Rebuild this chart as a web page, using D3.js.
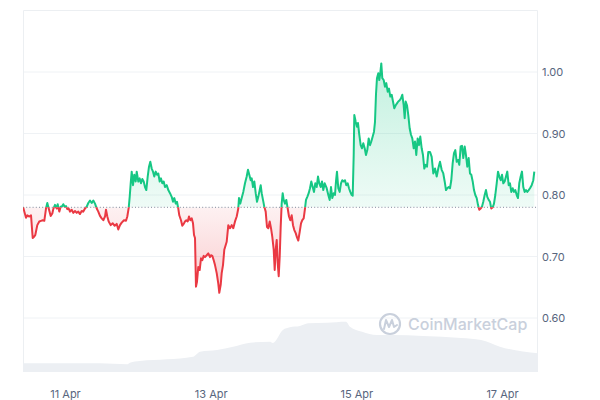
<!DOCTYPE html>
<html><head><meta charset="utf-8">
<script src="https://cdn.jsdelivr.net/npm/d3@7"></script>
<style>html,body{margin:0;padding:0;background:#fff;} svg{display:block;font-family:Inter,"Noto Sans",sans-serif;}</style>
</head><body><svg id="chart" width="600" height="400"></svg>
<script>
// ---- data (hours since 10 Apr 00:00 UTC) ----
const hours = [10.2, 11.15, 11.58, 12.24, 12.8, 13.36, 13.79, 14.21, 14.87, 15.53, 16.09, 16.65, 17.18, 17.74, 18.17, 18.63, 19.29, 19.82, 20.14, 20.7, 21.27, 21.59, 22.12, 22.58, 23.11, 23.44, 23.9, 24.33, 24.76, 25.22, 25.65, 26.21, 26.73, 27.3, 27.86, 28.38, 28.94, 29.5, 30.03, 30.59, 31.15, 31.68, 32.24, 32.8, 33.33, 33.89, 34.45, 34.97, 35.53, 36.09, 36.62, 37.18, 37.51, 37.94, 38.4, 39.06, 39.72, 40.38, 41.04, 41.56, 42.12, 42.68, 43.44, 44.1, 44.53, 44.99, 45.32, 45.65, 45.98, 46.41, 46.83, 47.3, 47.63, 48.15, 48.61, 49.04, 49.47, 49.93, 50.36, 50.79, 51.25, 51.68, 52.11, 52.57, 53.0, 53.42, 53.89, 54.31, 54.74, 55.2, 55.63, 56.06, 56.52, 56.95, 57.51, 58.04, 58.6, 59.16, 59.59, 60.01, 60.48, 60.9, 61.33, 61.66, 62.22, 62.65, 63.11, 63.54, 63.97, 64.43, 64.86, 65.29, 65.75, 66.18, 66.51, 66.84, 67.16, 67.49, 67.92, 68.38, 68.81, 69.24, 69.7, 70.13, 70.69, 71.22, 71.78, 72.11, 72.54, 73.0, 73.43, 73.99, 74.51, 74.84, 75.3, 75.63, 76.06, 76.49, 77.28, 77.81, 78.37, 78.93, 79.45, 80.02, 80.58, 81.1, 81.33, 81.76, 82.22, 82.75, 83.31, 83.87, 84.3, 84.73, 85.19, 85.52, 85.95, 86.38, 86.84, 87.27, 87.69, 88.15, 88.48, 88.81, 89.24, 89.67, 90.13, 90.56, 90.99, 91.45, 91.88, 92.31, 92.77, 93.1, 93.43, 93.76, 94.09, 94.42, 94.75, 95.07, 95.4, 95.73, 96.06, 96.49, 96.92, 97.38, 97.81, 98.24, 98.7, 99.13, 99.56, 100.02, 100.45, 100.87, 101.34, 101.77, 102.19, 102.65, 103.08, 103.41, 103.84, 104.3, 104.73, 105.16, 105.62, 106.05, 106.47, 106.94, 107.36, 107.79, 108.25, 108.68, 109.11, 109.57, 110.23, 110.76, 111.22, 111.65, 112.08, 112.54, 112.97, 113.29, 113.62, 114.05, 114.51, 114.94, 115.37, 115.83, 116.26, 116.69, 117.15, 117.58, 118.01, 118.47, 118.8, 119.13, 119.33, 119.79, 120.21, 120.54, 120.97, 121.43, 121.86, 122.29, 122.75, 123.18, 123.61, 124.07, 124.5, 124.93, 125.39, 125.82, 126.15, 126.47, 126.8, 127.23, 127.56, 127.89, 128.22, 128.55, 129.01, 129.44, 129.87, 130.33, 130.76, 131.19, 131.65, 132.08, 132.5, 132.97, 133.39, 133.82, 134.28, 134.71, 135.14, 135.6, 135.93, 136.26, 136.69, 137.12, 137.58, 138.01, 138.44, 138.9, 139.33, 139.75, 140.21, 140.64, 141.07, 141.53, 141.96, 142.39, 142.85, 143.28, 143.71, 144.27, 144.83, 145.36, 145.92, 146.48, 147.0, 147.56, 148.12, 148.65, 149.11, 149.54, 149.97, 150.43, 150.86, 151.29, 151.75, 152.18, 152.61, 153.07, 153.49, 153.92, 154.38, 154.81, 155.24, 155.7, 156.13, 156.56, 157.02, 157.45, 157.88, 158.34, 158.77, 159.2, 159.66, 160.08, 160.51, 160.98, 161.4, 161.83, 162.29, 162.72, 163.15, 163.61, 164.04, 164.47, 164.93, 165.36, 165.79, 166.25, 166.68, 167.11, 167.57, 168.0, 168.42, 168.88, 169.31, 169.74, 170.2, 170.63, 171.06, 171.52, 171.95, 172.38, 172.84, 173.26, 173.69, 174.15, 174.58, 175.01, 175.47, 175.9, 176.33, 176.79, 177.22, 177.78, 178.31, 178.64];
const prices = [0.780, 0.763, 0.767, 0.765, 0.767, 0.730, 0.732, 0.735, 0.751, 0.757, 0.758, 0.759, 0.758, 0.778, 0.787, 0.778, 0.766, 0.770, 0.777, 0.784, 0.778, 0.785, 0.773, 0.781, 0.782, 0.785, 0.781, 0.782, 0.777, 0.778, 0.773, 0.776, 0.771, 0.774, 0.771, 0.773, 0.769, 0.774, 0.773, 0.778, 0.781, 0.787, 0.791, 0.787, 0.791, 0.786, 0.778, 0.773, 0.766, 0.762, 0.759, 0.765, 0.776, 0.765, 0.757, 0.751, 0.754, 0.750, 0.753, 0.744, 0.751, 0.755, 0.759, 0.758, 0.765, 0.779, 0.797, 0.819, 0.838, 0.816, 0.833, 0.822, 0.838, 0.822, 0.827, 0.819, 0.826, 0.822, 0.813, 0.808, 0.830, 0.846, 0.854, 0.843, 0.838, 0.830, 0.838, 0.833, 0.835, 0.822, 0.827, 0.819, 0.822, 0.813, 0.816, 0.808, 0.803, 0.797, 0.789, 0.795, 0.786, 0.789, 0.778, 0.767, 0.759, 0.750, 0.753, 0.757, 0.759, 0.757, 0.765, 0.759, 0.762, 0.754, 0.735, 0.730, 0.651, 0.659, 0.683, 0.678, 0.697, 0.694, 0.701, 0.699, 0.702, 0.705, 0.699, 0.702, 0.701, 0.694, 0.686, 0.673, 0.656, 0.641, 0.654, 0.673, 0.686, 0.711, 0.724, 0.751, 0.746, 0.751, 0.746, 0.757, 0.765, 0.778, 0.795, 0.786, 0.795, 0.805, 0.819, 0.830, 0.841, 0.833, 0.824, 0.827, 0.813, 0.822, 0.803, 0.789, 0.797, 0.808, 0.816, 0.803, 0.792, 0.781, 0.773, 0.748, 0.746, 0.757, 0.746, 0.732, 0.711, 0.678, 0.711, 0.727, 0.689, 0.668, 0.700, 0.748, 0.786, 0.803, 0.792, 0.786, 0.792, 0.778, 0.765, 0.759, 0.767, 0.751, 0.743, 0.738, 0.731, 0.726, 0.740, 0.754, 0.759, 0.762, 0.778, 0.792, 0.797, 0.803, 0.811, 0.822, 0.813, 0.805, 0.819, 0.813, 0.830, 0.819, 0.813, 0.822, 0.808, 0.819, 0.811, 0.800, 0.792, 0.813, 0.795, 0.803, 0.800, 0.822, 0.838, 0.811, 0.805, 0.819, 0.824, 0.822, 0.824, 0.816, 0.819, 0.811, 0.805, 0.800, 0.799, 0.865, 0.930, 0.919, 0.911, 0.917, 0.898, 0.881, 0.876, 0.884, 0.876, 0.865, 0.873, 0.892, 0.881, 0.887, 0.895, 0.903, 0.919, 0.963, 0.990, 0.998, 0.987, 0.998, 1.014, 0.990, 0.987, 0.976, 0.982, 0.968, 0.973, 0.960, 0.963, 0.952, 0.941, 0.946, 0.949, 0.952, 0.954, 0.957, 0.963, 0.946, 0.925, 0.952, 0.946, 0.930, 0.908, 0.898, 0.892, 0.876, 0.887, 0.865, 0.892, 0.881, 0.895, 0.876, 0.865, 0.843, 0.849, 0.846, 0.870, 0.870, 0.862, 0.835, 0.843, 0.830, 0.843, 0.854, 0.841, 0.835, 0.822, 0.808, 0.811, 0.813, 0.811, 0.824, 0.852, 0.868, 0.873, 0.854, 0.857, 0.849, 0.879, 0.880, 0.860, 0.879, 0.865, 0.846, 0.860, 0.835, 0.833, 0.822, 0.808, 0.800, 0.795, 0.784, 0.776, 0.778, 0.781, 0.789, 0.800, 0.808, 0.797, 0.792, 0.789, 0.778, 0.780, 0.786, 0.800, 0.819, 0.838, 0.830, 0.824, 0.833, 0.819, 0.822, 0.830, 0.838, 0.816, 0.819, 0.805, 0.811, 0.805, 0.808, 0.800, 0.795, 0.819, 0.830, 0.838, 0.813, 0.805, 0.808, 0.805, 0.808, 0.811, 0.816, 0.824, 0.838];
const volHours = [10.16, 35.5, 44.4, 45.4, 48.7, 57.6, 66.2, 68.5, 74.1, 79.4, 85.0, 91.6, 92.5, 95.8, 98.1, 101.4, 104.1, 110.3, 116.6, 117.9, 121.9, 126.8, 131.8, 142.0, 154.5, 161.1, 167.3, 179.86];
const volumes = [8.7, 8.7, 7.7, 9.3, 11, 12.7, 15.3, 20.3, 22, 25.3, 29.3, 30.3, 29, 42, 44.7, 46, 48.7, 49.3, 50.3, 45.3, 40.3, 37, 37, 36, 34, 32, 25.3, 18.7];
const baselinePrice = 0.78;
const yTicks = [0.60, 0.70, 0.80, 0.90, 1.00];
const xTickDays = [11, 13, 15, 17];
const xTickLabels = ["11 Apr", "13 Apr", "15 Apr", "17 Apr"];

// ---- setup ----
const t0 = Date.UTC(2024, 3, 10);
const toTime = h => new Date(t0 + h * 3600e3);
const L = 23, R = 538, T = 10, B = 372;
const svg = d3.select("#chart");
const x = d3.scaleUtc().domain([toTime(10.16), toTime(179.86)]).range([L, R]);
const y = d3.scaleLinear().domain([0.6, 1.0]).range([318, 72]);
const vy = d3.scaleLinear().domain([0, 50]).range([B, 322]);

const data = d3.zip(hours, prices).map(([h, p]) => ({t: toTime(h), p}));
const vdata = d3.zip(volHours, volumes).map(([h, v]) => ({t: toTime(h), v}));
const yb = y(baselinePrice);

const defs = svg.append("defs");
defs.append("clipPath").attr("id", "cAbove").append("rect").attr("x", L).attr("y", 0).attr("width", R - L).attr("height", yb);
defs.append("clipPath").attr("id", "cBelow").append("rect").attr("x", L).attr("y", yb).attr("width", R - L).attr("height", 400 - yb);
const gG = defs.append("linearGradient").attr("id", "gGreen").attr("gradientUnits", "userSpaceOnUse")
  .attr("x1", 0).attr("x2", 0).attr("y1", y(d3.max(prices))).attr("y2", yb);
gG.append("stop").attr("offset", 0).attr("stop-color", "#16c784").attr("stop-opacity", 0.26);
gG.append("stop").attr("offset", 1).attr("stop-color", "#16c784").attr("stop-opacity", 0.07);
const gR = defs.append("linearGradient").attr("id", "gRed").attr("gradientUnits", "userSpaceOnUse")
  .attr("x1", 0).attr("x2", 0).attr("y1", yb).attr("y2", y(d3.min(prices)));
gR.append("stop").attr("offset", 0).attr("stop-color", "#ea3943").attr("stop-opacity", 0.07);
gR.append("stop").attr("offset", 1).attr("stop-color", "#ea3943").attr("stop-opacity", 0.26);

// frame + grid
svg.append("g").selectAll("line").data(yTicks).join("line")
  .attr("x1", L).attr("x2", R).attr("y1", d => y(d)).attr("y2", d => y(d))
  .attr("stroke", "#eff2f5").attr("stroke-width", 1);
svg.append("path").attr("d", `M${L + 0.5},${B}V${T + 0.5}H${R - 0.5}V${B}`)
  .attr("fill", "none").attr("stroke", "#eceff2").attr("stroke-width", 1);

// volume
svg.append("path").datum(vdata)
  .attr("d", d3.area().x(d => x(d.t)).y0(B).y1(d => vy(d.v)).curve(d3.curveMonotoneX))
  .attr("fill", "#eceff3");

// watermark
const wm = svg.append("g").attr("transform", "translate(390,324)");
wm.append("circle").attr("r", 10).attr("fill", "none").attr("stroke", "#c9d0dc").attr("stroke-width", 2.2);
wm.append("path").attr("d", "M-6,5 L-4,-4 L-1,3 L2,-4 L4,3 L7,1").attr("fill", "none")
  .attr("stroke", "#c9d0dc").attr("stroke-width", 2).attr("stroke-linejoin", "round").attr("stroke-linecap", "round");
svg.append("text").attr("x", 408).attr("y", 330).attr("font-size", 16).attr("font-weight", 500)
  .attr("fill", "#c9d0dc").text("CoinMarketCap");

// areas
const area = d3.area().x(d => x(d.t)).y0(yb).y1(d => y(d.p));
const line = d3.line().x(d => x(d.t)).y(d => y(d.p));
svg.append("path").datum(data).attr("d", area).attr("fill", "url(#gGreen)").attr("clip-path", "url(#cAbove)");
svg.append("path").datum(data).attr("d", area).attr("fill", "url(#gRed)").attr("clip-path", "url(#cBelow)");

// baseline
svg.append("line").attr("x1", L).attr("x2", R).attr("y1", yb).attr("y2", yb)
  .attr("stroke", "#808a9d").attr("stroke-width", 1).attr("stroke-dasharray", "1,2.2");

// lines
svg.append("path").datum(data).attr("d", line).attr("fill", "none").attr("stroke", "#16c784")
  .attr("stroke-width", 2).attr("stroke-linejoin", "round").attr("clip-path", "url(#cAbove)");
svg.append("path").datum(data).attr("d", line).attr("fill", "none").attr("stroke", "#ea3943")
  .attr("stroke-width", 2).attr("stroke-linejoin", "round").attr("clip-path", "url(#cBelow)");

// axes
const yAxis = svg.append("g").attr("transform", `translate(${R},0)`)
  .call(d3.axisRight(y).tickValues(yTicks).tickFormat(d3.format(".2f")).tickSize(0).tickPadding(4));
yAxis.select(".domain").remove();
yAxis.selectAll("text").attr("fill", "#58667e").attr("font-size", 11).attr("font-family", "Inter,'Noto Sans',sans-serif");

const xAxis = svg.append("g").attr("transform", `translate(0,385)`)
  .call(d3.axisBottom(x).tickValues(xTickDays.map(d => new Date(Date.UTC(2024, 3, d))))
    .tickFormat((d, i) => xTickLabels[i]).tickSize(0).tickPadding(5));
xAxis.select(".domain").remove();
xAxis.selectAll("text").attr("fill", "#58667e").attr("font-size", 11).attr("font-family", "Inter,'Noto Sans',sans-serif");
</script>
</body></html>
